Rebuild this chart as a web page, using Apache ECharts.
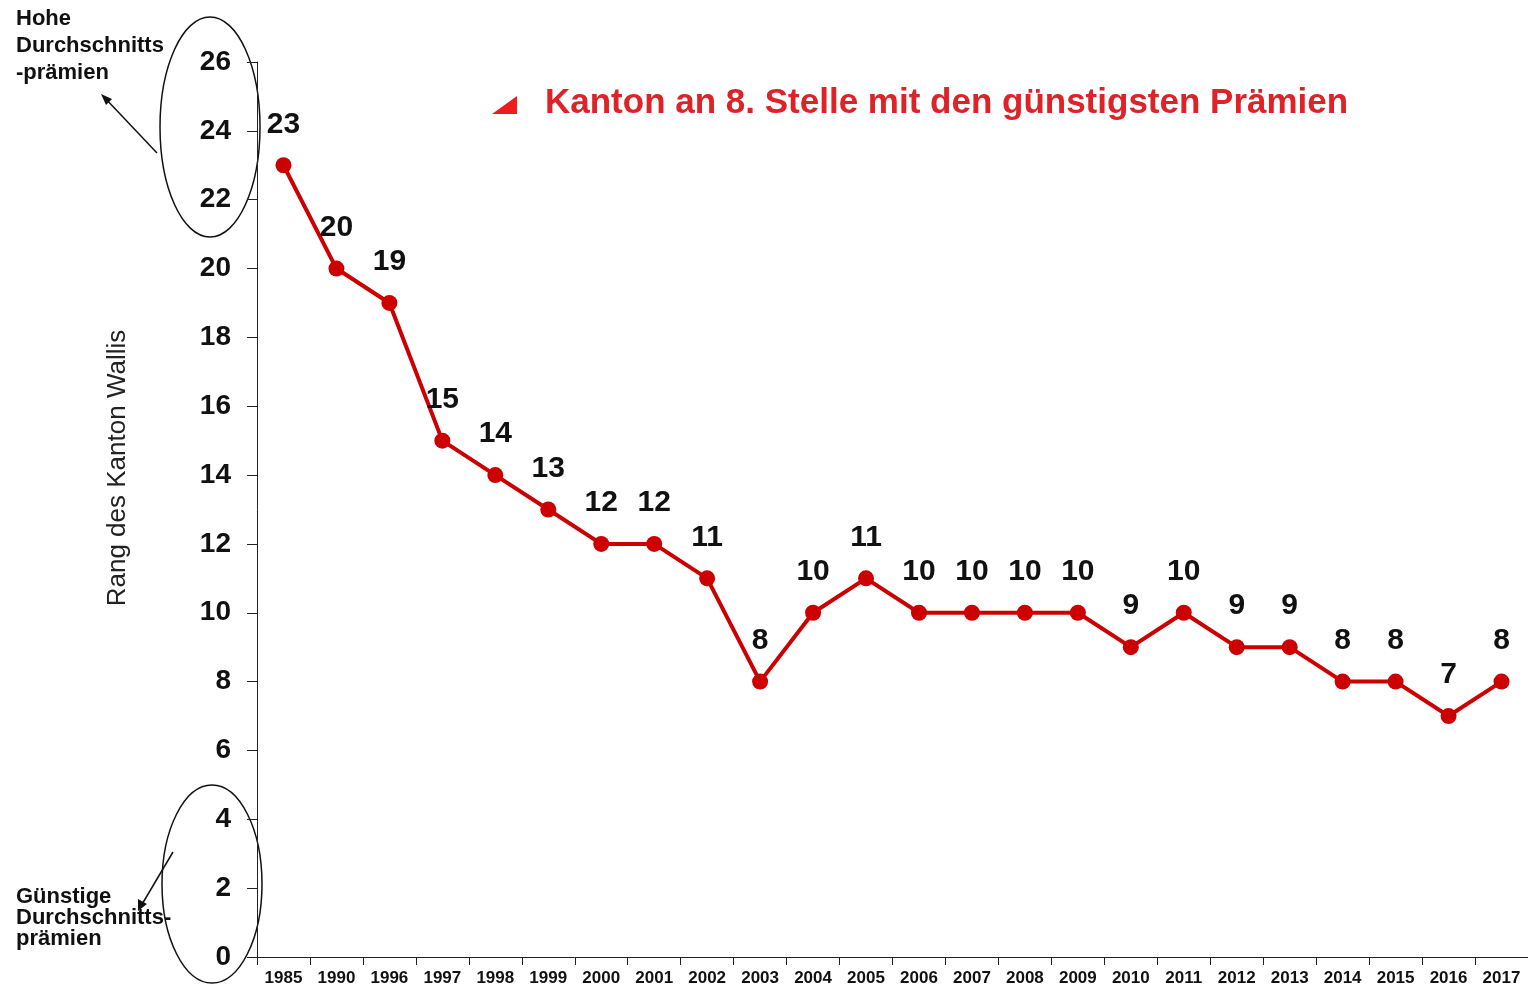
<!DOCTYPE html>
<html>
<head>
<meta charset="utf-8">
<script src="https://cdn.jsdelivr.net/npm/echarts@6/dist/echarts.min.js"></script>
<style>
  html, body { margin: 0; padding: 0; background: #fff; }
  #chart { width: 1528px; height: 988px; }
</style>
</head>
<body>
<div id="chart"></div>
<script>
const years = ['1985', '1990', '1996', '1997', '1998', '1999', '2000', '2001', '2002', '2003', '2004', '2005',
  '2006', '2007', '2008', '2009', '2010', '2011', '2012', '2013', '2014', '2015', '2016', '2017'];
const ranks = [23, 20, 19, 15, 14, 13, 12, 12, 11, 8, 10, 11, 10, 10, 10, 10, 9, 10, 9, 9, 8, 8, 7, 8];

const FONT = '"Liberation Sans", Arial, sans-serif';
const RED = '#cc0000';

const chart = echarts.init(document.getElementById('chart'));

chart.setOption({
  backgroundColor: '#fff',
  animation: false,
  textStyle: { fontFamily: FONT },
  grid: { left: 257, right: 0, top: 62, bottom: 31 },
  xAxis: {
    type: 'category',
    data: years,
    boundaryGap: true,
    axisLine: { lineStyle: { color: '#222', width: 1 } },
    axisTick: { show: true, length: 8, lineStyle: { color: '#222' } },
    axisLabel: { color: '#111', fontSize: 17, fontWeight: 'bold', margin: 13, interval: 0 }
  },
  yAxis: {
    type: 'value',
    min: 0,
    max: 26,
    interval: 2,
    axisLine: { show: true, lineStyle: { color: '#222', width: 1 } },
    axisTick: { show: true, length: 10, lineStyle: { color: '#222' } },
    axisLabel: { color: '#111', fontSize: 28, fontWeight: 'bold', margin: 26 },
    splitLine: { show: false }
  },
  series: [{
    type: 'line',
    data: ranks,
    symbol: 'circle',
    symbolSize: 16,
    lineStyle: { color: RED, width: 4 },
    itemStyle: { color: RED },
    label: {
      show: true,
      position: 'top',
      distance: 18,
      color: '#111',
      fontSize: 30,
      fontWeight: 'bold'
    }
  }],
  graphic: [
    // axis title
    {
      type: 'text',
      x: 118, y: 468,
      rotation: Math.PI / 2,
      style: {
        text: 'Rang des Kanton Wallis',
        fill: '#222', font: '26px ' + FONT,
        align: 'center', verticalAlign: 'middle'
      }
    },
    // title
    {
      type: 'polygon',
      shape: { points: [[492, 114], [517, 114], [517, 96]] },
      style: { fill: '#ee1c1c' }
    },
    {
      type: 'text',
      left: 545, top: 86,
      style: {
        text: 'Kanton an 8. Stelle mit den günstigsten Prämien',
        fill: '#dd2228', font: 'bold 35px ' + FONT
      }
    },
    // top ellipse + note
    {
      type: 'ellipse',
      shape: { cx: 210, cy: 127, rx: 50, ry: 110 },
      style: { fill: 'none', stroke: '#111', lineWidth: 1.5 }
    },
    {
      type: 'text',
      left: 16, top: 5,
      style: {
        text: 'Hohe\nDurchschnitts\n-prämien',
        fill: '#111', font: 'bold 22px ' + FONT, lineHeight: 27
      }
    },
    {
      type: 'line',
      shape: { x1: 157, y1: 153, x2: 104, y2: 97 },
      style: { stroke: '#111', lineWidth: 1.5 }
    },
    {
      type: 'polygon',
      shape: { points: [[101, 94], [112, 99], [106, 105]] },
      style: { fill: '#111' }
    },
    // bottom ellipse + note
    {
      type: 'ellipse',
      shape: { cx: 212, cy: 884, rx: 50, ry: 99 },
      style: { fill: 'none', stroke: '#111', lineWidth: 1.5 }
    },
    {
      type: 'text',
      left: 16, top: 886,
      style: {
        text: 'Günstige\nDurchschnitts-\nprämien',
        fill: '#111', font: 'bold 22px ' + FONT, lineHeight: 21
      }
    },
    {
      type: 'line',
      shape: { x1: 173, y1: 852, x2: 141, y2: 906 },
      style: { stroke: '#111', lineWidth: 1.5 }
    },
    {
      type: 'polygon',
      shape: { points: [[138, 911], [138, 899], [147, 904]] },
      style: { fill: '#111' }
    }
  ]
});
</script>
</body>
</html>
